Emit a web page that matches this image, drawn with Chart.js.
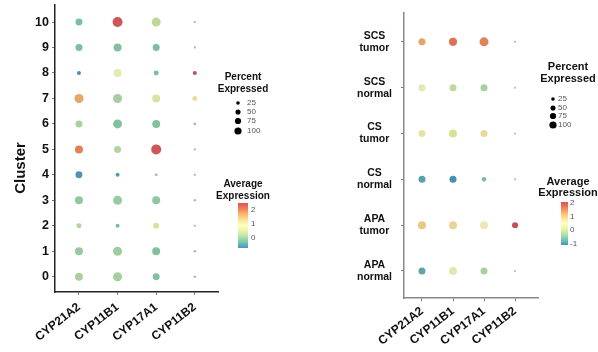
<!DOCTYPE html>
<html>
<head>
<meta charset="utf-8">
<script src="https://cdn.jsdelivr.net/npm/chart.js@4.4.1/dist/chart.umd.min.js"></script>
<style>
    body { margin: 0; background: #fff; width: 598px; height: 352px; overflow: hidden; position: relative; }
    #wrapLeft { position: absolute; left: 0; top: 0; width: 300px; height: 352px; }
    #wrapRight { position: absolute; left: 300px; top: 0; width: 298px; height: 352px; }
</style>
</head>
<body>
<div id="wrapLeft"><canvas id="left"></canvas></div>
<div id="wrapRight"><canvas id="right"></canvas></div>
<script>
const genes = ['CYP21A2', 'CYP11B1', 'CYP17A1', 'CYP11B2'];

// left panel, clusters 0..10 (bottom to top)
const clusters = ['0', '1', '2', '3', '4', '5', '6', '7', '8', '9', '10'];
const clusterPct = [
    [59, 75, 45, 6],
    [59, 75, 59, 6],
    [23, 15, 33, 5],
    [59, 75, 59, 6],
    [45, 15, 8, 5],
    [59, 45, 92, 5],
    [45, 75, 59, 7],
    [75, 75, 59, 23],
    [15, 59, 23, 15],
    [45, 59, 45, 5],
    [45, 92, 75, 5]
];
const clusterAvg = [
    [0.15, 0.1, -0.15, 0],
    [0, 0.05, -0.15, 0],
    [0.2, -0.2, 0.5, 0],
    [-0.05, 0, -0.05, 0],
    [-0.6, -0.55, -0.6, 0],
    [2.0, 0.2, 2.4, 0],
    [0.15, -0.15, -0.15, 0],
    [1.7, 0.1, 0.6, 1.1],
    [-0.65, 0.85, -0.2, 2.5],
    [-0.2, -0.15, -0.2, 0],
    [-0.2, 2.4, 0.3, 0]
];

// right panel, bottom to top
const groups = [['APA', 'normal'], ['APA', 'tumor'], ['CS', 'normal'], ['CS', 'tumor'], ['SCS', 'normal'], ['SCS', 'tumor']];
const groupPct = [
    [58, 76, 58, 5],
    [76, 76, 76, 43],
    [58, 58, 25, 5],
    [58, 76, 58, 5],
    [58, 58, 58, 5],
    [58, 76, 96, 5]
];
const groupAvg = [
    [-0.85, 0.35, -0.3, -0.2],
    [0.95, 0.8, 0.5, 2.05],
    [-0.9, -1.05, -0.6, -0.2],
    [0.6, 0.1, 0.75, -0.2],
    [0.4, -0.1, -0.3, -0.2],
    [1.3, 1.7, 1.55, -0.2]
];

const pctLegend = [25, 50, 75, 100];
const leftAvgTicks = [0, 1, 2];
const rightAvgTicks = [-1, 0, 1, 2];

const spectral = ['#3288bd', '#66c2a5', '#abdda4', '#e6f598', '#ffffbf', '#fee08b', '#fdae61', '#f46d43', '#d53e4f'];
const FONT = "'Liberation Sans', Arial, sans-serif";

const hexRgb = (h) => [1, 3, 5].map(i => parseInt(h.substr(i, 2), 16));

const colorAt = (t, alpha) => {
    t = Math.max(0, Math.min(1, t));
    const p = t * (spectral.length - 1);
    const i = Math.min(Math.floor(p), spectral.length - 2);
    const f = p - i;
    const a = hexRgb(spectral[i]);
    const b = hexRgb(spectral[i + 1]);
    // a little greyer than the raw palette, like the source figure
    const c = a.map((v, k) => Math.round((v + (b[k] - v) * f) * 0.88 + 128 * 0.12 - 8));
    return 'rgba(' + c.join(',') + ',' + alpha + ')';
};

const buildPoints = (pct, avg, maxR) => {
    const pts = [];
    pct.forEach((row, y) => {
        row.forEach((p, x) => {
            pts.push({ x: x, y: y, r: maxR * Math.sqrt(p / 100), p: p, v: avg[y][x] });
        });
    });
    return pts;
};

const legendPlugin = {
    id: 'dotLegend',
    afterDraw(chart, args, o) {
        const ctx = chart.ctx;
        ctx.save();
        ctx.fillStyle = '#111';
        ctx.textAlign = 'center';
        ctx.textBaseline = 'middle';
        ctx.font = 'bold ' + o.titleSize + 'px ' + FONT;
        ctx.fillText('Percent', o.cx, o.pY[0]);
        ctx.fillText('Expressed', o.cx, o.pY[1]);
        ctx.fillText('Average', o.cx, o.aY[0]);
        ctx.fillText('Expression', o.cx, o.aY[1]);

        ctx.font = '8px ' + FONT;
        ctx.textAlign = 'left';
        pctLegend.forEach((p, i) => {
            ctx.fillStyle = '#000';
            ctx.beginPath();
            ctx.arc(o.dotX, o.dotY[i], o.legendR * Math.sqrt(p / 100), 0, Math.PI * 2);
            ctx.fill();
            ctx.fillStyle = '#555';
            ctx.fillText(String(p), o.labX, o.dotY[i]);
        });

        const h = o.barBottom - o.barTop;
        const grad = ctx.createLinearGradient(0, o.barBottom, 0, o.barTop);
        spectral.forEach((c, i) => grad.addColorStop(i / (spectral.length - 1), c));
        ctx.globalAlpha = 0.9;
        ctx.fillStyle = grad;
        ctx.fillRect(o.barX, o.barTop, o.barW, h);
        ctx.globalAlpha = 1;
        ctx.fillStyle = '#555';
        o.ticks.forEach(v => {
            const y = o.barBottom - (v - o.min) / (o.max - o.min) * h;
            ctx.fillText(String(v), o.barLabX, y);
        });

        if (o.axisTitle) {
            ctx.translate(o.axisTitle.x, o.axisTitle.y);
            ctx.rotate(-Math.PI / 2);
            ctx.textAlign = 'center';
            ctx.fillStyle = '#111';
            ctx.font = 'bold 15px ' + FONT;
            ctx.fillText(o.axisTitle.text, 0, 0);
        }
        ctx.restore();
    }
};

const makeChart = (id, cfg) => {
    const ctx = document.querySelector(id).getContext('2d');
    const points = buildPoints(cfg.pct, cfg.avg, cfg.maxR);
    return new Chart(ctx, {
        type: 'bubble',
        data: {
            datasets: [{
                data: points,
                borderWidth: 0,
                backgroundColor: (c) => {
                    const d = c.raw;
                    if (!d) return '#ccc';
                    if (d.p < 10) return 'rgba(150,150,150,0.7)';
                    const t = (d.v - cfg.min) / (cfg.max - cfg.min);
                    return colorAt(t, 0.92);
                }
            }]
        },
        options: {
            responsive: true,
            maintainAspectRatio: false,
            animation: false,
            events: [],
            layout: { padding: cfg.padding },
            plugins: {
                legend: { display: false },
                tooltip: { enabled: false },
                dotLegend: cfg.legend
            },
            scales: {
                x: {
                    type: 'linear',
                    min: cfg.xMin,
                    max: cfg.xMax,
                    afterBuildTicks: (s) => { s.ticks = genes.map((g, i) => ({ value: i })); },
                    afterFit: (s) => {
                        s.height = cfg.xHeight;
                        s.paddingLeft = 0;
                        s.paddingRight = 0;
                    },
                    ticks: {
                        autoSkip: false,
                        minRotation: 38,
                        maxRotation: 38,
                        padding: cfg.xPad,
                        color: '#111',
                        font: { family: FONT, size: 12, weight: 'bold' },
                        callback: (v) => genes[v]
                    },
                    grid: { drawOnChartArea: false, tickLength: 3, color: '#777' },
                    border: { color: cfg.axisColor, width: 1.5 }
                },
                y: {
                    type: 'linear',
                    min: cfg.yMin,
                    max: cfg.yMax,
                    afterBuildTicks: (s) => { s.ticks = cfg.labels.map((g, i) => ({ value: i })); },
                    afterFit: (s) => {
                        s.width = cfg.yWidth;
                        s.paddingTop = 0;
                        s.paddingBottom = 0;
                    },
                    ticks: {
                        autoSkip: false,
                        padding: cfg.yPad,
                        crossAlign: cfg.crossAlign,
                        color: '#111',
                        font: { family: FONT, size: cfg.yFont, weight: 'bold', lineHeight: 1.15 },
                        callback: (v) => cfg.labels[v]
                    },
                    grid: { drawOnChartArea: false, tickLength: 3, color: '#777' },
                    border: { color: cfg.axisColor, width: 1.5 }
                }
            }
        },
        plugins: [legendPlugin]
    });
};

makeChart('#left', {
    pct: clusterPct, avg: clusterAvg, maxR: 5.2, min: -0.7, max: 2.5,
    labels: clusters, yFont: 12.5, crossAlign: 'near', yPad: 3, xPad: 5,
    padding: { left: 0, right: 82, top: 5, bottom: 0 },
    xMin: -0.62, xMax: 3.6, yMin: -0.6, yMax: 10.67, xHeight: 60, yWidth: 55,
    axisColor: '#222',
    legend: {
        titleSize: 10, cx: 243, pY: [77, 89], aY: [184, 196],
        dotX: 238, dotY: [103, 112, 121, 131], labX: 247, legendR: 3.6,
        barX: 238, barW: 10, barTop: 203, barBottom: 248, barLabX: 251,
        min: -0.7, max: 2.5, ticks: leftAvgTicks,
        axisTitle: { text: 'Cluster', x: 21, y: 168 }
    }
});

makeChart('#right', {
    pct: groupPct, avg: groupAvg, maxR: 4.6, min: -1.1, max: 2.05,
    labels: groups, yFont: 10.5, crossAlign: 'center', yPad: 9, xPad: 3,
    padding: { left: 0, right: 60, top: 13, bottom: 0 },
    xMin: -0.58, xMax: 3.74, yMin: -0.59, yMax: 5.63, xHeight: 54, yWidth: 104,
    axisColor: '#888',
    legend: {
        titleSize: 11, cx: 268, pY: [67, 79], aY: [182, 193],
        dotX: 253, dotY: [99, 108, 116, 125], labX: 258, legendR: 3.6,
        barX: 261, barW: 7, barTop: 202, barBottom: 245, barLabX: 270,
        min: -1.1, max: 2.05, ticks: rightAvgTicks
    }
});
</script>
</body>
</html>
